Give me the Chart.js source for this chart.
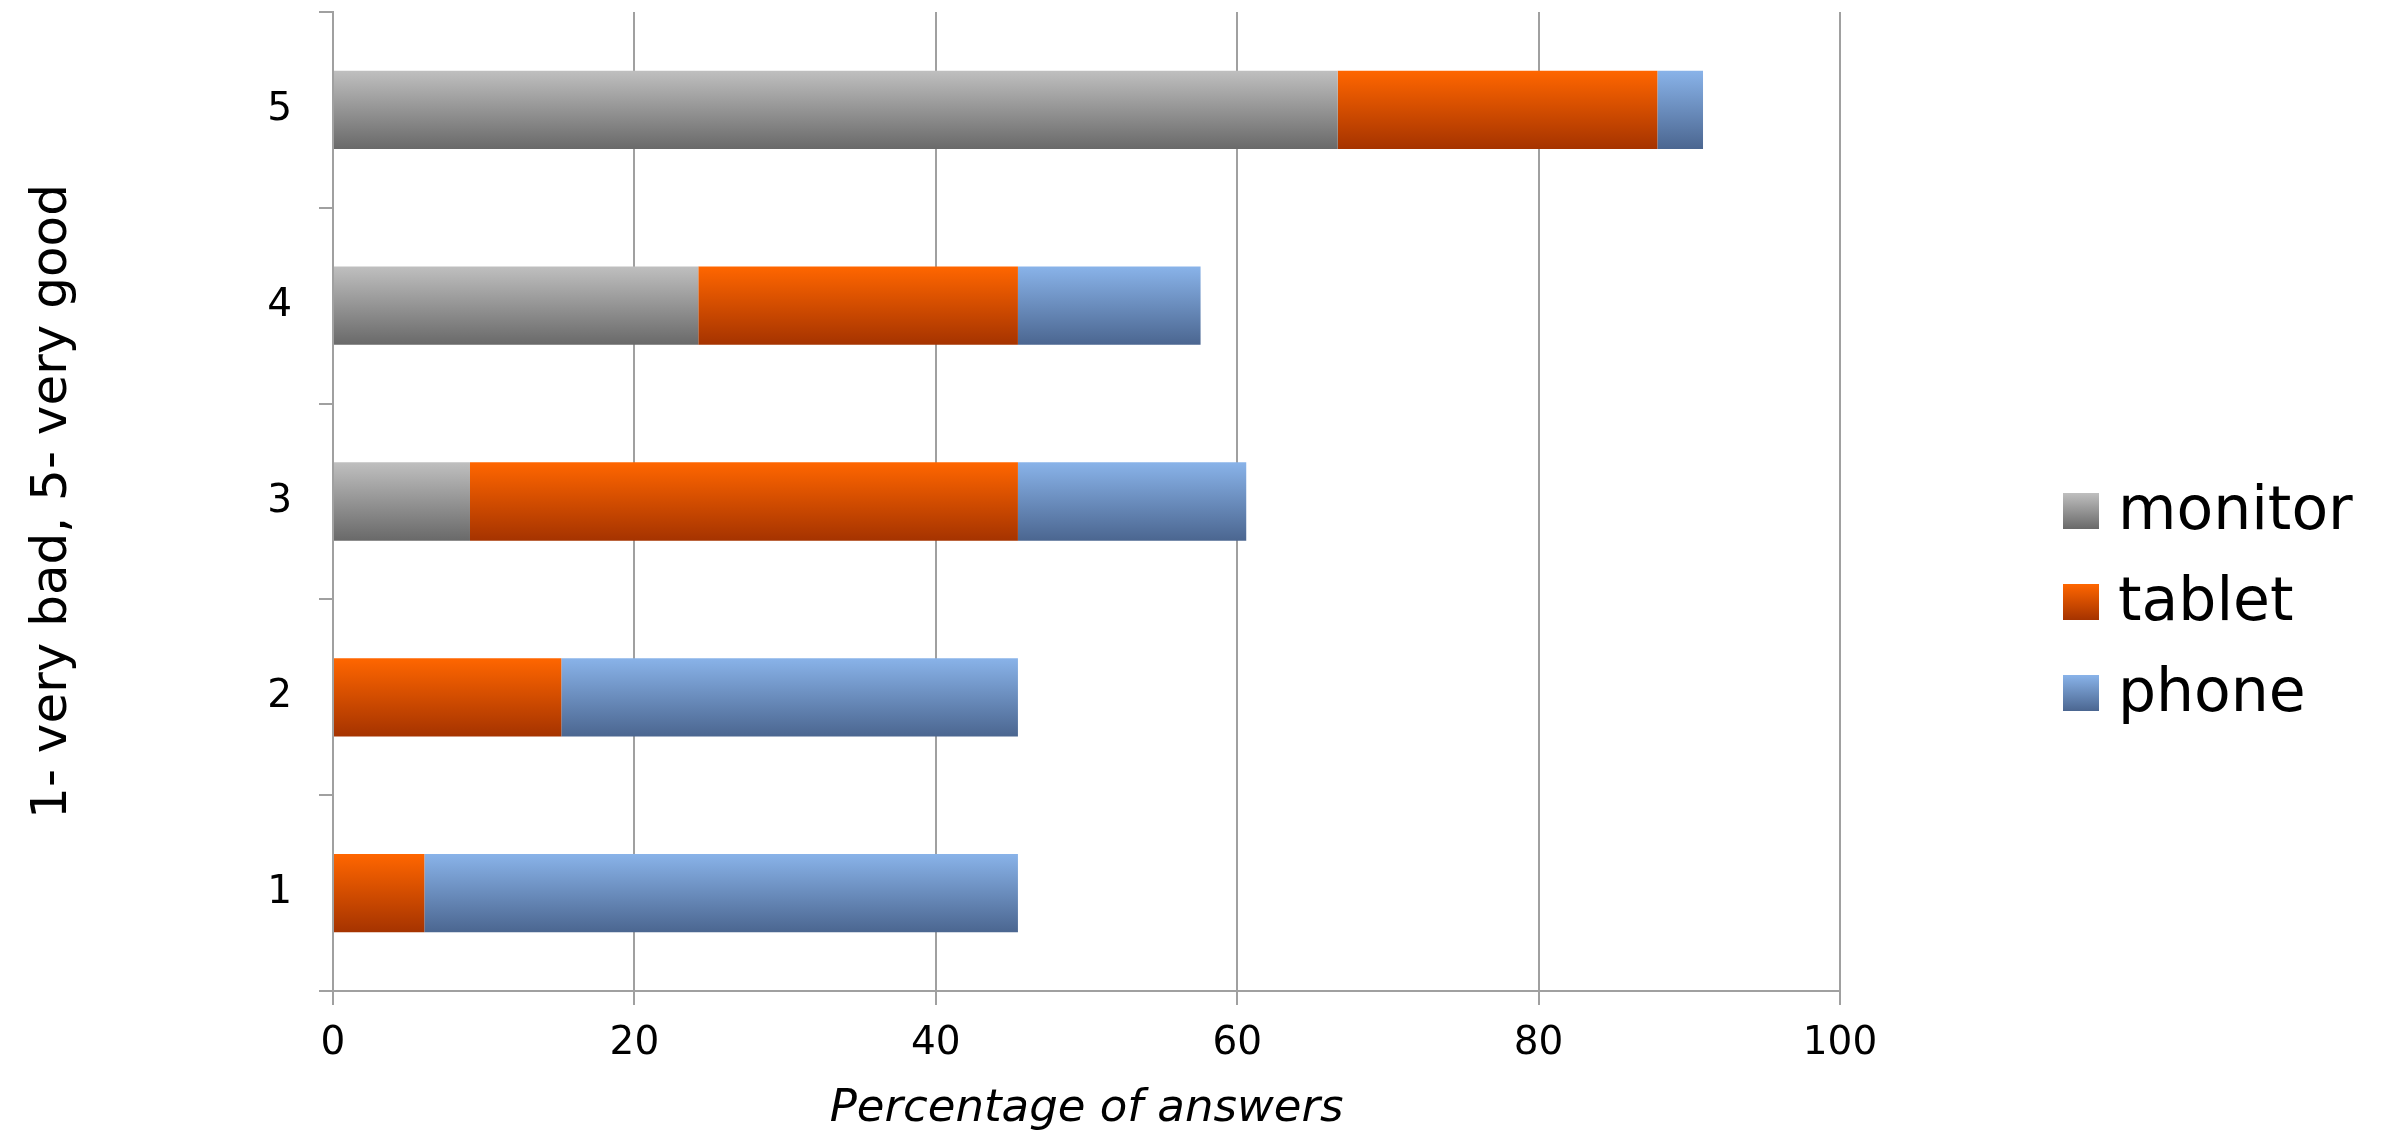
<!DOCTYPE html>
<html>
<head>
<meta charset="utf-8">
<script src="https://cdn.jsdelivr.net/npm/chart.js@4/dist/chart.umd.min.js"></script>
<style>
  html, body { margin: 0; padding: 0; background: #fff; }
  canvas { display: block; }
</style>
</head>
<body>
<canvas id="ratings" width="2387" height="1137"></canvas>
<script>
// rating 1..5, share of answers per device (%)
const ratings = ['1', '2', '3', '4', '5'];
const monitor = [0, 0, 9.09, 24.24, 66.67];
const tablet = [6.06, 15.15, 36.36, 21.21, 21.21];
const phone = [39.39, 30.3, 15.15, 12.12, 3.03];
const seriesNames = ['monitor', 'tablet', 'phone'];
const xTicks = [0, 20, 40, 60, 80, 100];

const BAR_PCT = 0.4;
const GRID = '#a0a0a0';

// top / bottom colour of each series gradient
const shades = {
  monitor: ['#bfbfbf', '#696969'],
  tablet: ['#ff6600', '#a53300'],
  phone: ['#89b3e9', '#4b6690'],
};

Chart.defaults.font.family = "'DejaVu Sans', sans-serif";
Chart.defaults.color = '#000';

function barFill(name) {
  return (ctx) => {
    const chart = ctx.chart;
    const area = chart.chartArea;
    const [top, bottom] = shades[name];
    if (!area || !chart.scales.y) return bottom;
    const band = (area.bottom - area.top) / ratings.length;
    const cy = chart.scales.y.getPixelForValue(ctx.dataIndex);
    const half = band * BAR_PCT / 2;
    const g = chart.ctx.createLinearGradient(0, cy - half, 0, cy + half);
    g.addColorStop(0, top);
    g.addColorStop(1, bottom);
    return g;
  };
}

// legend on the right, boxes filled like the bars
const sideLegend = {
  id: 'sideLegend',
  afterDraw(chart) {
    const c = chart.ctx;
    const boxX = 2063, box = 36, firstY = 511, gap = 91;
    c.save();
    c.font = "60px 'DejaVu Sans', sans-serif";
    c.textBaseline = 'middle';
    c.fillStyle = '#000';
    chart.data.datasets.forEach((ds, i) => {
      const cy = firstY + i * gap;
      const [top, bottom] = shades[ds.label];
      const g = c.createLinearGradient(0, cy - box / 2, 0, cy + box / 2);
      g.addColorStop(0, top);
      g.addColorStop(1, bottom);
      c.fillStyle = g;
      c.fillRect(boxX, cy - box / 2, box, box);
      c.fillStyle = '#000';
      c.fillText(ds.label, boxX + 55, cy + 2);
    });
    c.restore();
  }
};

let config = {
  type: 'bar',
  data: {
    labels: ratings,
    datasets: [
      { label: seriesNames[0], data: monitor, backgroundColor: barFill('monitor') },
      { label: seriesNames[1], data: tablet, backgroundColor: barFill('tablet') },
      { label: seriesNames[2], data: phone, backgroundColor: barFill('phone') },
    ],
  },
  options: {
    indexAxis: 'y',
    responsive: false,
    animation: false,
    devicePixelRatio: 1,
    categoryPercentage: 1,
    barPercentage: BAR_PCT,
    layout: { padding: { left: 0, right: 547, top: 12, bottom: 0 } },
    plugins: {
      legend: { display: false },
      tooltip: { enabled: false },
    },
    scales: {
      x: {
        stacked: true,
        min: 0,
        max: 100,
        afterBuildTicks: (scale) => { scale.ticks = xTicks.map(v => ({ value: v })); },
        afterFit: (scale) => {
          scale.height = 146;
          scale.paddingLeft = 0;
          scale.paddingRight = 0;
        },
        grid: { color: GRID, lineWidth: 2, tickLength: 14 },
        border: { color: GRID, width: 2 },
        ticks: { font: { size: 39 }, padding: 15, maxRotation: 0 },
        title: {
          display: true,
          text: 'Percentage of answers',
          font: { size: 45, style: 'italic' },
          padding: { top: 0, bottom: 1 },
        },
      },
      y: {
        stacked: true,
        reverse: true,
        afterFit: (scale) => {
          scale.width = 333;
          scale.paddingTop = 0;
          scale.paddingBottom = 0;
        },
        grid: { drawOnChartArea: false, color: GRID, lineWidth: 2, tickLength: 14 },
        border: { color: GRID, width: 2 },
        ticks: { font: { size: 39 }, padding: 27 },
        title: {
          display: true,
          text: '1- very bad, 5- very good',
          font: { size: 50 },
          padding: { top: 23, bottom: 0 },
        },
      },
    },
  },
  plugins: [sideLegend],
};

let ctx = document.getElementById('ratings').getContext('2d');
window.ratingChart = new Chart(ctx, config);
</script>
</body>
</html>
